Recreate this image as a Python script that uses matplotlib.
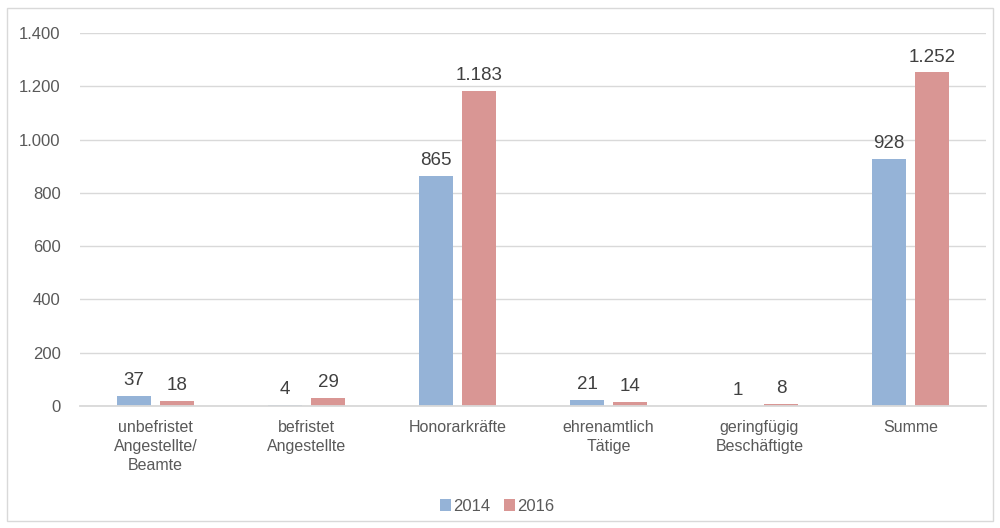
import numpy as np
import matplotlib
matplotlib.use("Agg")
import matplotlib.pyplot as plt
from matplotlib.patches import Rectangle

plt.rcParams['font.family'] = ['Liberation Sans', 'DejaVu Sans']

categories = ["unbefristet\nAngestellte/\nBeamte", "befristet\nAngestellte", "Honorarkräfte",
              "ehrenamtlich\nTätige", "geringfügig\nBeschäftigte", "Summe"]
values_2014 = [37, 4, 865, 21, 1, 928]
values_2016 = [18, 29, 1183, 14, 8, 1252]
series_labels = ["2014", "2016"]

TEXT = "#595959"
GRID = "#D9D9D9"
BLUE = "#95B3D7"
RED = "#D99694"


def fmt_de(v):
    return f"{v:,.0f}".replace(",", ".")


fig = plt.figure(figsize=(10, 5.28), dpi=100)
ax = fig.add_axes([0.08, 0.231, 0.906, 0.7064])

x = np.arange(len(categories))
w = 0.225
off = 0.142
b1 = ax.bar(x - off, values_2014, w, color=BLUE, label=series_labels[0], zorder=3)
b2 = ax.bar(x + off, values_2016, w, color=RED, label=series_labels[1], zorder=3)

for bars, vals in ((b1, values_2014), (b2, values_2016)):
    for rect, v in zip(bars, vals):
        ax.annotate(fmt_de(v), (rect.get_x() + rect.get_width() / 2, v),
                    xytext=(0, 5), textcoords="offset points",
                    ha="center", va="bottom", fontsize=13.5, color="#404040")

ax.set_ylim(0, 1400)
ax.set_xlim(-0.5, len(categories) - 0.5)
ax.set_yticks(range(0, 1401, 200))
ax.set_yticklabels([fmt_de(v) for v in range(0, 1401, 200)])
ax.set_xticks(x)
ax.set_xticklabels(categories, linespacing=1.35)
ax.tick_params(axis="y", length=0, pad=14, labelsize=12, labelcolor=TEXT)
ax.tick_params(axis="x", length=0, pad=10, labelsize=11.5, labelcolor=TEXT)

ax.grid(axis="y", color=GRID, linewidth=1, zorder=0)
for s in ("top", "right", "left"):
    ax.spines[s].set_visible(False)
ax.spines["bottom"].set_color(GRID)
ax.spines["bottom"].set_linewidth(1.3)
ax.spines["bottom"].set_zorder(4)

leg = fig.legend(loc="center", bbox_to_anchor=(0.497, 0.041), ncol=2, frameon=False,
                 fontsize=12, handlelength=0.65, handleheight=0.65, handletextpad=0.15,
                 columnspacing=0.8, labelcolor=TEXT)

fig.patches.append(Rectangle((0.007, 0.014), 0.986, 0.97, transform=fig.transFigure,
                             fill=False, edgecolor=GRID, linewidth=1))

fig.savefig("out.png", dpi=100)
